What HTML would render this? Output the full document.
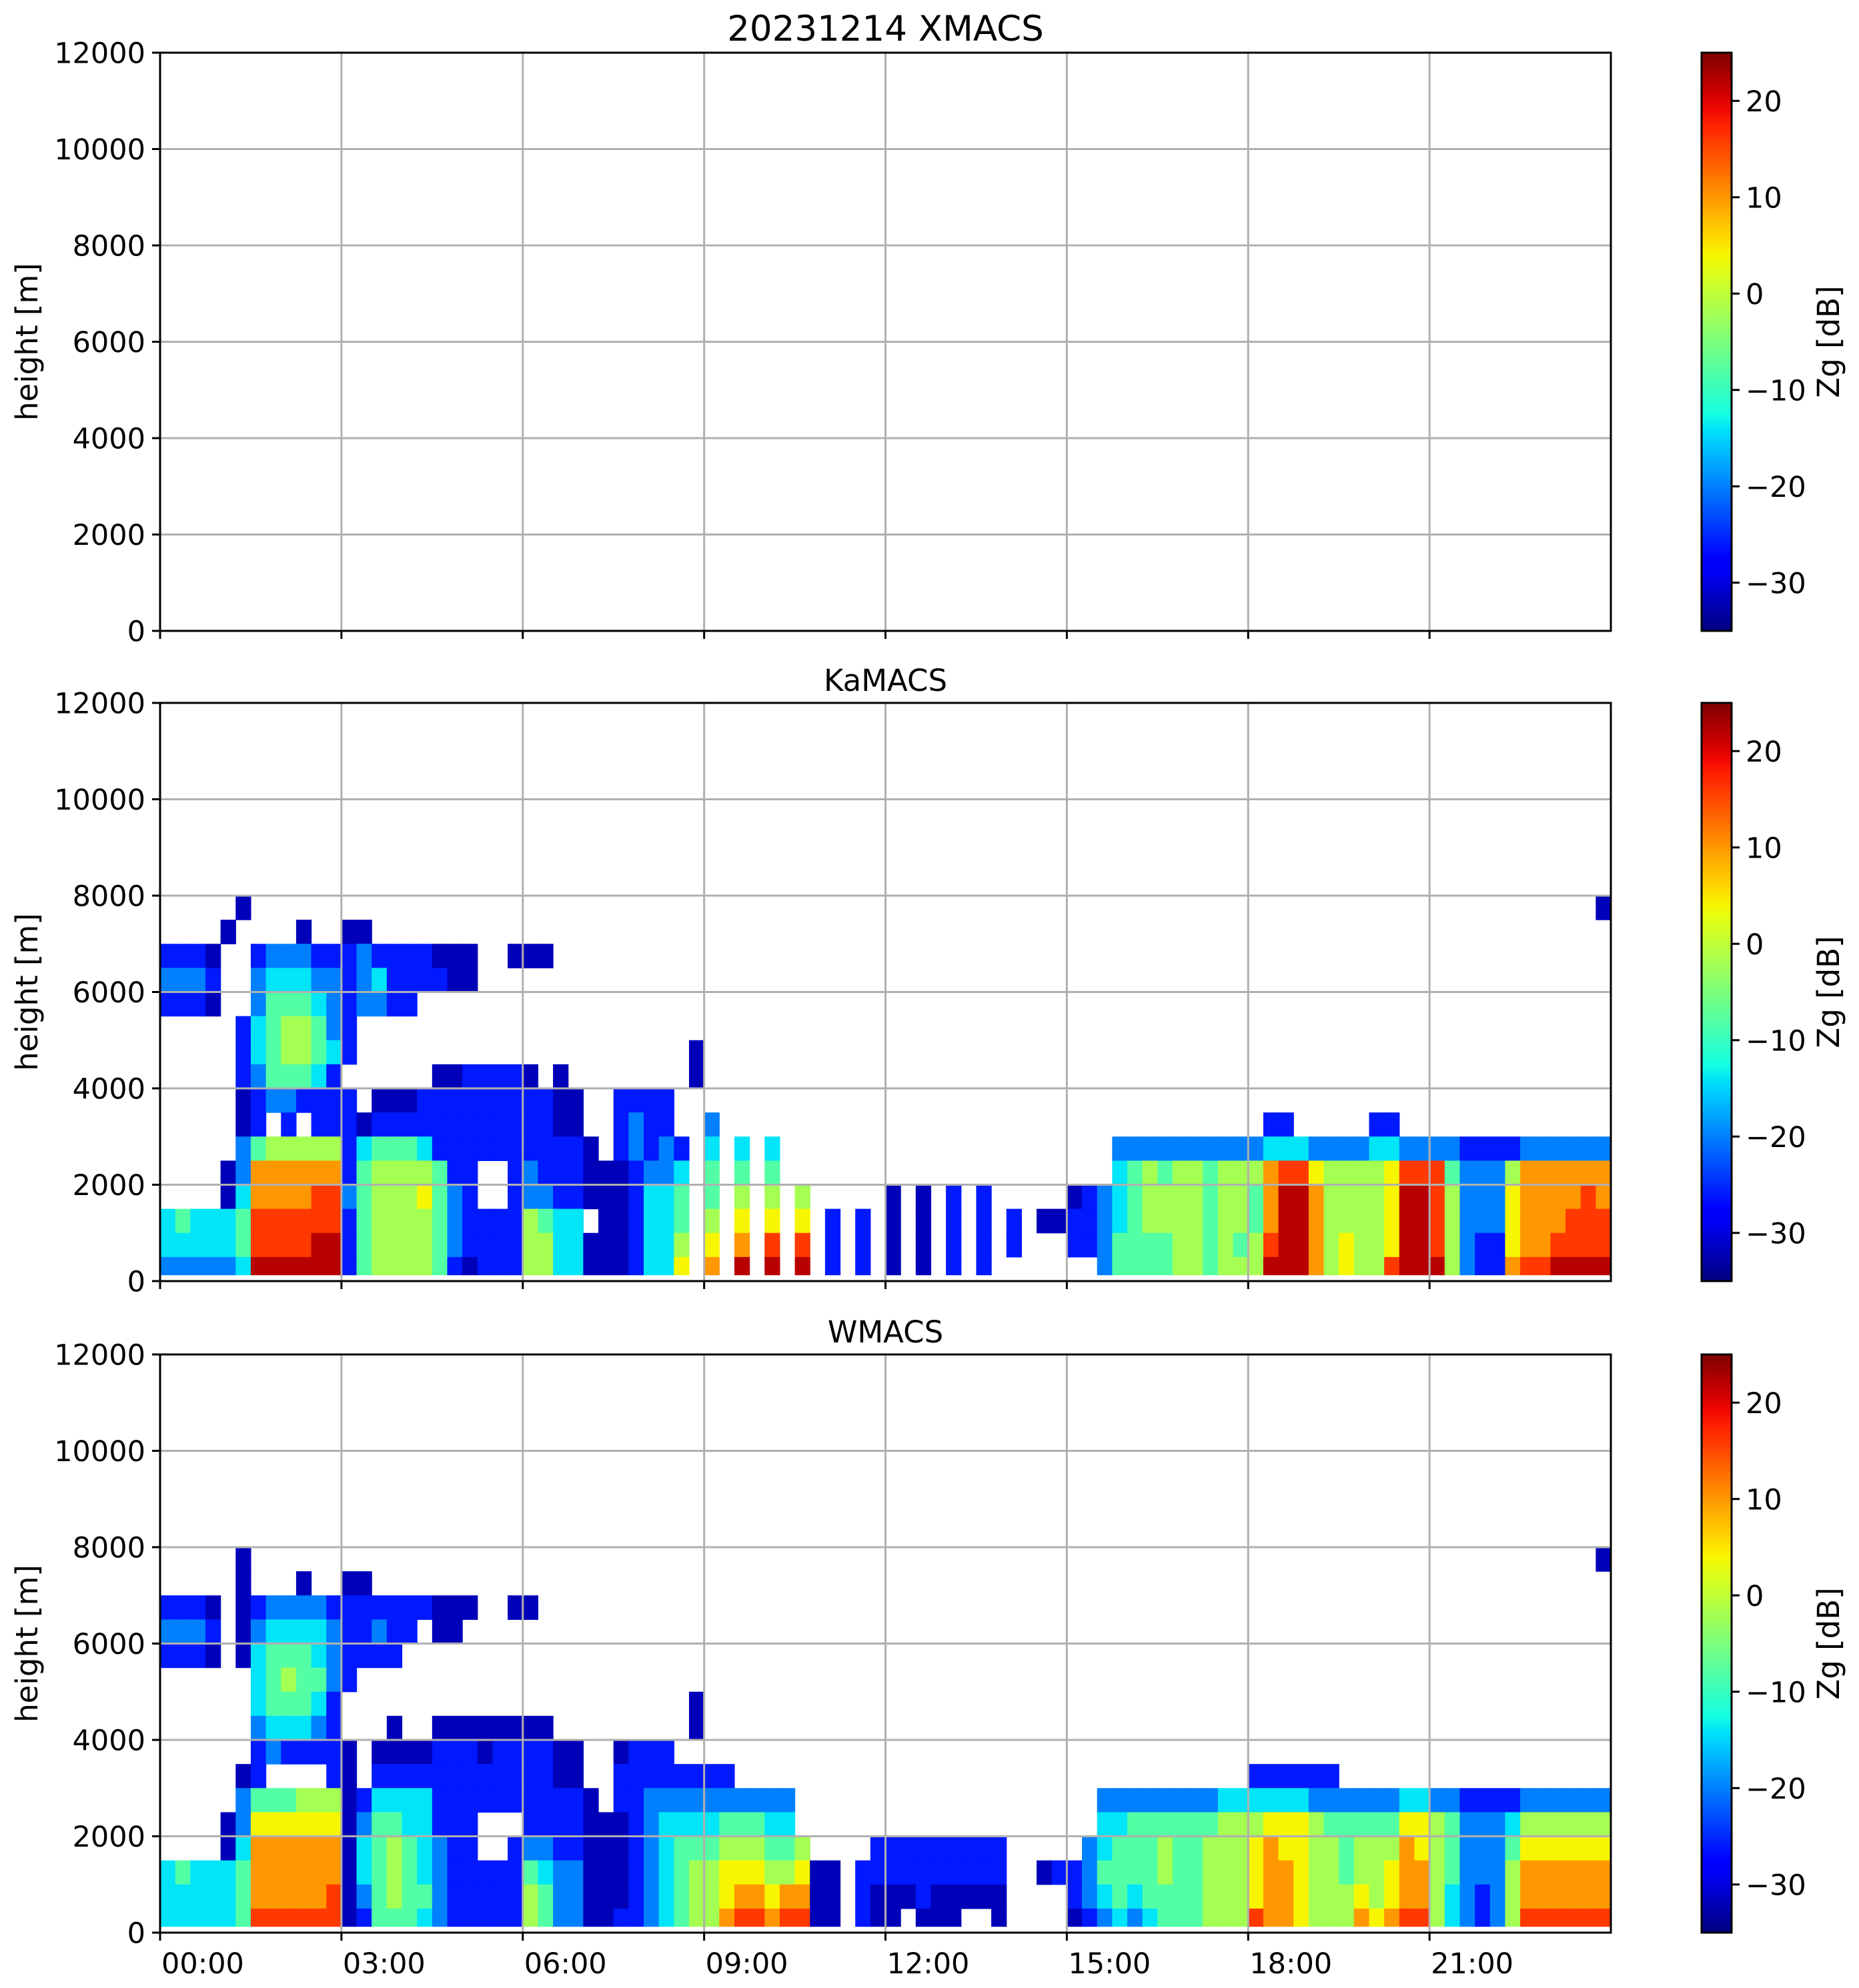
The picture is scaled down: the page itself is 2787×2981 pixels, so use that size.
<!DOCTYPE html>
<html><head><meta charset="utf-8"><title>20231214 XMACS</title>
<style>html,body{margin:0;padding:0;background:#fff}svg{display:block}text{font-family:"DejaVu Sans","Liberation Sans",sans-serif;fill:#000}</style>
</head><body>
<svg id="fig" width="2787" height="2981" viewBox="0 0 2787 2981" xmlns="http://www.w3.org/2000/svg"></svg>
<script>
// ---- data (height rows: 7.5-8 km at top down to 0-0.5 km; 96 columns of 15 min; '.'=no echo, 0-9 = reflectivity level) ----
const levelValues = [-32, -26, -20, -14, -8, -2, 4, 10, 16, 22]; // dB per level char
const rowTopsKm = [8, 7.5, 7, 6.5, 6, 5.5, 5, 4.5, 4, 3.5, 3, 2.5, 2, 1.5, 1, 0.5];
const xTickHours = [0, 3, 6, 9, 12, 15, 18, 21];
const xTickLabels = ["00:00", "03:00", "06:00", "09:00", "12:00", "15:00", "18:00", "21:00"];
const yTicks = [0, 2000, 4000, 6000, 8000, 10000, 12000];
const cbTicks = [-30, -20, -10, 0, 10, 20];
const panelTitles = ["20231214 XMACS", "KaMACS", "WMACS"];
const xmacsRows = [];
const kamacsRows = [
".... .0.. .... .... .... .... .... .... .... .... .... .... .... .... .... .... .... .... .... .... .... .... .... ...0",
".... 0... .0.. 00.. .... .... .... .... .... .... .... .... .... .... .... .... .... .... .... .... .... .... .... ....",
"1110 ..12 2211 1211 1100 0..0 00.. .... .... .... .... .... .... .... .... .... .... .... .... .... .... .... .... ....",
"2221 ..23 3322 1231 1110 0... .... .... .... .... .... .... .... .... .... .... .... .... .... .... .... .... .... ....",
"1110 ..24 4432 1221 1... .... .... .... .... .... .... .... .... .... .... .... .... .... .... .... .... .... .... ....",
".... .134 5542 1... .... .... .... .... .... .... .... .... .... .... .... .... .... .... .... .... .... .... .... ....",
".... .134 5543 1... .... .... .... .... ...0 .... .... .... .... .... .... .... .... .... .... .... .... .... .... ....",
".... .124 4431 .... ..00 1111 0.0. .... ...0 .... .... .... .... .... .... .... .... .... .... .... .... .... .... ....",
".... .012 2111 1.00 0111 1111 1100 ..11 11.. .... .... .... .... .... .... .... .... .... .... .... .... .... .... ....",
".... .01. 1.11 1011 1111 1111 1100 ..12 11.. 2... .... .... .... .... .... .... .... .... .11. .... 11.. .... .... ....",
".... .245 5555 1344 4311 1111 1111 0.12 121. 3.3. 3... .... .... .... .... ...2 2222 2222 2333 2222 3322 2211 1122 2222",
".... 0277 7777 1455 5541 1..1 2111 0001 223. 4.4. 4... .... .... .... .... ...3 4545 5455 5788 6555 5688 8422 2577 7777",
".... 0377 7788 2455 5642 1..1 2211 0001 334. 4.5. 5.5. .... 0.0. 1.1. .... 0123 4555 5455 4799 7555 5699 8522 2677 7787",
"3433 3488 8888 1455 5542 1111 5433 .001 334. 5.6. 6.6. 1.1. 0.0. 1.1. 1.00 1123 4555 5455 4799 7555 5699 8522 2677 7888",
"3333 3488 8899 1455 5542 1111 5533 0001 335. 6.7. 8.8. 1.1. 0.0. 1.1. 1... 1124 4445 5454 5899 7565 5699 8521 1677 8888",
"2222 2399 9999 1455 5541 0111 5533 0001 336. 7.9. 9.9. 1.1. 0.0. 1.1. .... ..24 4445 5455 5999 7565 5899 9521 1788 9999"
];
const wmacsRows = [
".... .0.. .... .... .... .... .... .... .... .... .... .... .... .... .... .... .... .... .... .... .... .... .... ...0",
".... .0.. .0.. 00.. .... .... .... .... .... .... .... .... .... .... .... .... .... .... .... .... .... .... .... ....",
"1110 .012 2221 1111 1100 0..0 0... .... .... .... .... .... .... .... .... .... .... .... .... .... .... .... .... ....",
"2221 .023 3332 1121 1.00 .... .... .... .... .... .... .... .... .... .... .... .... .... .... .... .... .... .... ....",
"1110 .034 4432 1111 .... .... .... .... .... .... .... .... .... .... .... .... .... .... .... .... .... .... .... ....",
".... ..34 5442 1... .... .... .... .... .... .... .... .... .... .... .... .... .... .... .... .... .... .... .... ....",
".... ..34 4431 .... .... .... .... .... ...0 .... .... .... .... .... .... .... .... .... .... .... .... .... .... ....",
".... ..23 3321 ...0 ..00 0000 00.. .... ...0 .... .... .... .... .... .... .... .... .... .... .... .... .... .... ....",
".... ..12 1111 0.00 0011 1011 1100 ..01 11.. .... .... .... .... .... .... .... .... .... .... .... .... .... .... ....",
".... .01. ...1 0.11 1111 1111 1100 ..11 1111 11.. .... .... .... .... .... .... .... .... 1111 11.. .... .... .... ....",
".... .244 4555 0133 3311 1111 1111 0.11 2222 2222 22.. .... .... .... .... ..22 2222 2233 3333 2222 2233 2211 1122 2222",
".... 0266 6666 0244 3311 1... 1111 0001 2333 3444 33.. .... .... .... .... ..33 4444 4455 5666 5444 4466 5422 2355 5555",
".... 0377 7777 0345 4321 1..1 2211 0001 2344 4555 445. ...1 1111 1111 .... .234 4454 4555 6766 5545 5576 5422 2466 6666",
"3433 3477 7777 0345 4321 1111 4322 0001 2345 5666 5560 0.11 1111 1111 ..01 1244 4454 4555 6776 5545 5677 5422 2577 7777",
"3333 3477 7778 0245 4421 1111 5422 0001 2345 5677 6770 0.10 0010 0000 .... 1234 3444 4555 6776 5556 5677 5321 2577 7777",
"3333 3488 8888 0144 4321 1111 5422 0011 2345 5788 7880 0.10 0.00 0..0 .... 0123 2344 4555 8776 5557 6788 5321 2588 8888"
];

// ---- layout ----
const NS = "http://www.w3.org/2000/svg";
const svg = document.getElementById("fig");
const AX_L = 240, AX_R = 2415, AX_H = 867;
const TOPS = [79, 1054, 2031];
const CB_L = 2551, CB_R = 2596;
const VMIN = -35, VMAX = 25, HMIN = 0, HMAX = 24, YMAX = 12000;
const DATA_BOTTOM_KM = 0.13;
function xS(h) { return AX_L + (h - HMIN) / (HMAX - HMIN) * (AX_R - AX_L); }
function yS(top, m) { return top + AX_H - m / YMAX * AX_H; }
function cbY(top, v) { return top + (VMAX - v) / (VMAX - VMIN) * AX_H; }
function jet(t) {
  t = Math.max(0, Math.min(1, t));
  const pw = (pts) => { for (let i = 1; i < pts.length; i++) { if (t <= pts[i][0]) { const a = pts[i-1], b = pts[i]; return a[1] + (b[1]-a[1]) * (t-a[0]) / (b[0]-a[0]); } } return pts[pts.length-1][1]; };
  const r = pw([[0,0],[0.35,0],[0.66,1],[0.89,1],[1,0.5]]);
  const g = pw([[0,0],[0.125,0],[0.375,1],[0.64,1],[0.91,0],[1,0]]);
  const b = pw([[0,0.5],[0.11,1],[0.34,1],[0.65,0],[1,0]]);
  return "rgb(" + Math.round(r*255) + "," + Math.round(g*255) + "," + Math.round(b*255) + ")";
}
function mk(tag, attrs, parent) {
  const e = document.createElementNS(NS, tag);
  for (const k in attrs) e.setAttribute(k, attrs[k]);
  (parent || svg).appendChild(e);
  return e;
}

const defs = mk("defs", {});
const grad = mk("linearGradient", { id: "jetgrad", x1: "0", y1: "1", x2: "0", y2: "0" }, defs);
for (let i = 0; i <= 40; i++) mk("stop", { offset: (i / 40).toString(), "stop-color": jet(i / 40) }, grad);

const panelRows = [xmacsRows, kamacsRows, wmacsRows];
const panelNames = ["xmacs", "kamacs", "wmacs"];

for (let p = 0; p < 3; p++) {
  const top = TOPS[p];
  const g = mk("g", {});
  
  

  const rows = panelRows[p];
  const hm = mk("g", {}, g);
  
  
  for (let r = 0; r < rows.length; r++) {
    const s = rows[r].replace(/ /g, "");
    const ncol = s.length;
    const topKm = rowTopsKm[r];
    const botKm = Math.max(topKm - 0.5, DATA_BOTTOM_KM);
    const y1 = yS(top, topKm * 1000), y2 = yS(top, botKm * 1000);
    for (let c = 0; c < ncol; c++) {
      const ch = s[c];
      if (ch === ".") continue;
      const v = levelValues[parseInt(ch, 10)];
      const x1 = xS(c * 24 / ncol), x2 = xS((c + 1) * 24 / ncol);
      const cell = mk("rect", { x: x1.toFixed(2), y: y1.toFixed(2), width: (x2 - x1 + 0.6).toFixed(2), height: (y2 - y1 + 0.6).toFixed(2), fill: jet((v - VMIN) / (VMAX - VMIN)) }, hm);
      
      
    }
  }

  for (let i = 1; i < xTickHours.length; i++) {
    const x = xS(xTickHours[i]);
    const gl = mk("line", { x1: x, x2: x, y1: top, y2: top + AX_H, stroke: "#b0b0b0", "stroke-width": 3 }, g);
    
    
  }
  for (let i = 1; i < yTicks.length - 1; i++) {
    const y = yS(top, yTicks[i]);
    const gl = mk("line", { x1: AX_L, x2: AX_R, y1: y, y2: y, stroke: "#b0b0b0", "stroke-width": 3 }, g);
    
    
  }
  const fr = mk("rect", { x: AX_L, y: top, width: AX_R - AX_L, height: AX_H, fill: "none", stroke: "#000", "stroke-width": 3 }, g);
  
  

  for (let i = 0; i < yTicks.length; i++) {
    const y = yS(top, yTicks[i]);
    mk("line", { x1: AX_L - 12, x2: AX_L, y1: y, y2: y, stroke: "#000", "stroke-width": 3 }, g);
    const t = mk("text", { x: 218, y: y + 15.5, "text-anchor": "end", "font-size": 43 }, g);
    t.textContent = String(yTicks[i]);
    
    
  }
  for (let i = 0; i < xTickHours.length; i++) {
    const x = xS(xTickHours[i]);
    mk("line", { x1: x, x2: x, y1: top + AX_H, y2: top + AX_H + 12, stroke: "#000", "stroke-width": 3 }, g);
    if (p === 2) {
      const t = mk("text", { x: x + 2, y: top + AX_H + 61, "font-size": 43 }, g);
      t.textContent = xTickLabels[i];
      
      
    }
  }
  const yl = mk("text", { x: 0, y: 0, "text-anchor": "middle", "font-size": 45, transform: "translate(56," + (top + AX_H / 2) + ") rotate(-90)" }, g);
  yl.textContent = "height [m]";
  
  
  const tt = mk("text", { x: (AX_L + AX_R) / 2, y: top - 18, "text-anchor": "middle", "font-size": p === 0 ? 53 : 45 }, g);
  tt.textContent = panelTitles[p];
  
  

  const cb = mk("rect", { x: CB_L, y: top, width: CB_R - CB_L, height: AX_H, fill: "url(#jetgrad)", stroke: "#000", "stroke-width": 3 }, g);
  
  
  for (let i = 0; i < cbTicks.length; i++) {
    const y = cbY(top, cbTicks[i]);
    mk("line", { x1: CB_R, x2: CB_R + 12, y1: y, y2: y, stroke: "#000", "stroke-width": 3 }, g);
    const t = mk("text", { x: 2617, y: y + 15.5, "font-size": 43 }, g);
    t.textContent = cbTicks[i] < 0 ? "\u2212" + Math.abs(cbTicks[i]) : String(cbTicks[i]);
    
    
  }
  const cl = mk("text", { x: 0, y: 0, "text-anchor": "middle", "font-size": 45, transform: "translate(2757," + (top + AX_H / 2) + ") rotate(-90)" }, g);
  cl.textContent = "Zg [dB]";
  
  
}
</script>
</body></html>
